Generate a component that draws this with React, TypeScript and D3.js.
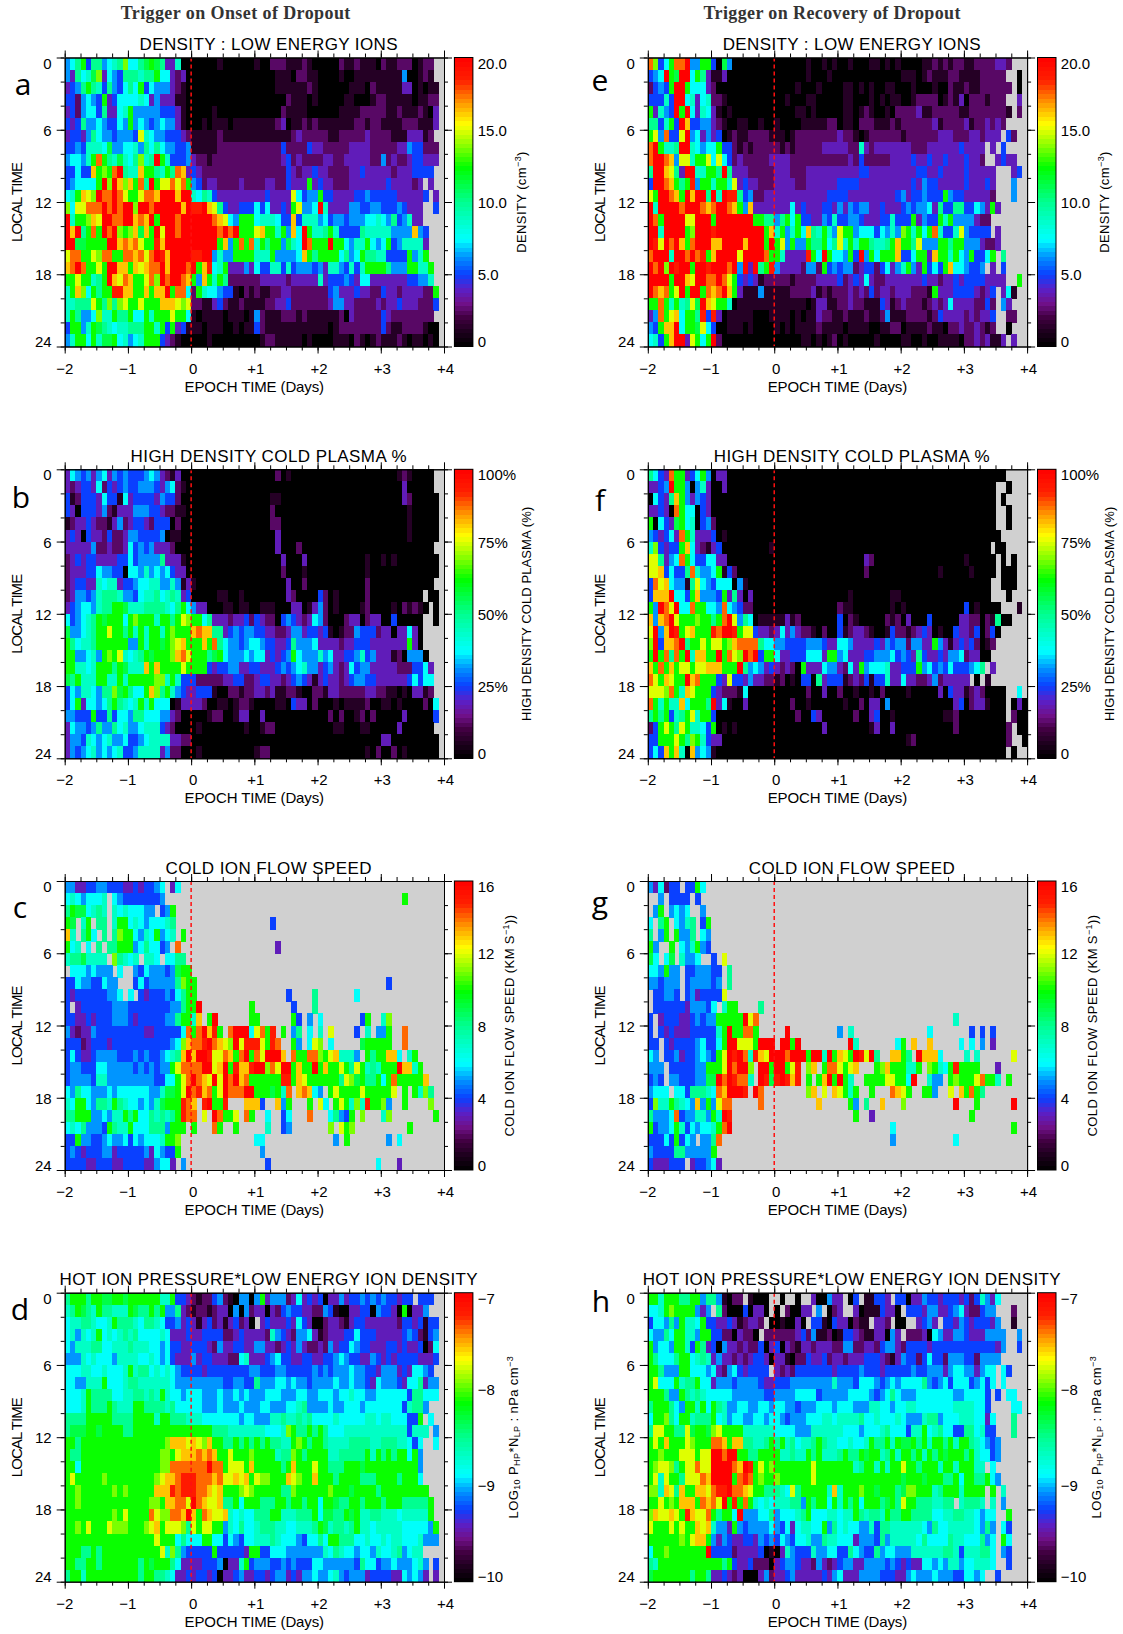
import * as d3 from "d3";
import React, { useEffect, useRef } from "react";

// one row per 2 hours of local time, 12 cells per epoch day (groups split by a space)
// cell code: 0..g is the fraction code/16 of the colour bar, "." is no data (grey)
const densityOnset = [
  "568a4885678b 6689a9833700 000001000000 100222111210 000021121110 2112220122..",
  "538679b36548 88788a663230 000000000000 000011102211 000010011111 1111500121..",
  "3458a8748546 86a465553210 000000000000 000011111121 000000111021 11113301011.",
  "4425654a3466 667635333110 000000000000 000000211101 000001100012 21111101122.",
  "342566483367 a55555444310 000010000000 000002111100 000011112222 21121112103.",
  "434855654465 a56545655310 001011101111 111123011212 111111122122 11112221113.",
  "344358655455 54c765544432 111112111111 111111123222 221122222322 2211133312..",
  "445477769556 675868655445 111112222222 222224222243 322222333322 22233544222.",
  "56657aea8797 68b78ga74445 322122222222 222223423222 233223333322 52322344333.",
  "44644dabaeg8 77daa87a8ed3 432222222222 222222432334 332222334333 3323334444..",
  "456666agbgdb dae8gaccecea 542332222322 2233224333a3 433222333333 34333323.3..",
  "67adcbgeegec aaceedgggdgg 768743333333 3343333c6455 a44333344544 444333334.3.",
  "b6cceeegegeg gbggegggggdg ffgdc8433444 6463343ac556 g73333554455 44454333..4.",
  "g7aabdcggeeg gdedgagggegg ggggedc65aaa 6777644d4777 564554555667 65845733....",
  "gdg8aeagegba bd9dagcggegg gggggegegaaa cdaa7a5d6ga7 78a744448777 775555d54...",
  "gg99aaaaggde decaafdggggg gggggad5aeae 7a8aa5976gea aagaa6577a65 6a4577773...",
  "ceeaacbeeaae edecegfdgggg ffgg5755aaaa 777a55556da8 aaaa6856a887 74444a57a...",
  "degeaacaggdd adcdeegdggge gadf67a33353 644774745554 537754747aaa a8555aa77a..",
  "aacaa78agdce daacebgegged a5da7a822222 233333233333 734445436633 3333344557..",
  "7adb6a8aaffd daadaddgaee6 2a7665441021 211223322222 224533343322 4332333322a.",
  "77888ca8b8bc aacaaadddcbc 221134211211 112233422222 223553322223 23343332224.",
  "7a8556b77a88 a66a7aaacaa6 101111011101 521112221211 111120322222 4322222222..",
  "4aa57a987677 888aa7a4a341 110111001011 421111111111 110122222222 42112222100.",
  "57aa6a799a67 567aaa432100 000100000000 012211111010 000111021012 11121011010.",
];

const plasmaOnset = [
  "365453563545 444565321300 000000000000 000020100000 000000000000 0001210000..",
  "323443624345 445554356210 000000000000 000000000000 000000000000 0000300000..",
  "412444364416 344443544200 000000000000 000110000000 000000000000 00003200000.",
  "430444352133 355544322110 000000000000 000200000000 000000000000 00000100000.",
  "123343221352 344324440200 000000000000 000220000000 000000000000 00000100000.",
  "343043324223 554444501100 000000000000 000030000000 000000000000 00000100000.",
  "333335223223 645453332000 000000000000 000030002000 000000000000 0000000000..",
  "234344333344 645555833310 000000000000 000003000300 000000000100 10100000000.",
  "233344655440 665756564330 000000000000 000002000100 000000000100 00000000000.",
  "234433767734 456677557513 100000000000 000000300200 000000000200 0000000000..",
  "235545788875 546778678734 000001100100 000000320000 420100000200 00000000.00.",
  "345665788aa9 7778888768a6 533000110110 011100033013 520100001200 001021210.0.",
  "645678a9aaa6 abaaa7aa8acb aa6833323342 432204543236 520002330233 00400000..0.",
  "955678aacaa8 a7a7aa7abaaa dedd88345455 443322355344 341012254442 33033630....",
  "a86778aaaaaa 55a7aa9abcda aadae8655456 654433485556 333323344433 33333a30....",
  "aa55675abac7 678a9aaabdec aaa89a655565 6634345a6555 756334457453 331205550...",
  "aa7767aaa8a9 777dadaaaaca aaa434455334 433345456755 345323645533 3332224463..",
  "98a777aa77a7 aaaaabb7a744 422222334422 344332345431 343323455443 3333346466..",
  "465776588b9a 866adb8a7543 344410022122 332311221002 213322222332 2110103312..",
  "46a366568a87 67a7a6660133 332001101221 000011043302 000101111200 11010000206.",
  "55444a448466 588666553200 000122001330 030000000000 002020012020 00003000004.",
  "365545855867 556777432000 010000000010 012200000000 000110001100 0003000000..",
  "355476567556 445677773322 000000000000 000000000000 000000000000 33000000000.",
  "354567565674 457777352200 010000000000 122000000000 000000000102 00201000000.",
];

const speedOnset = [
  "553344554443 3434456.36.. ............ ............ ............ ............",
  "67656667.654 4444445..... ............ ............ ............ ....a.......",
  "8a996787.767 66655.45a... ............ ............ ............ ............",
  "a9.7a.88.7aa 676566678... ............ ...4........ ............ ............",
  "d7.8a6.8.8ba a6576a567.a. ............ ............ ............ ............",
  "a67.6.8.88aa a5686645.e.. ............ ....3....... ............ ............",
  "78897777.b87 67.776.6688. ............ ............ ............ ............",
  ".66656555.6. .546555459aa ............ ............ ............ ............",
  "4465544655.. .464555558ba a........... ............ ............ .4..........",
  "43444444556. 6.434445468a a........... ......4....8 .......6.... ............",
  "4.3444444555 44444444558a ag.........a .......4...8 ............ ............",
  "443343444555 4344444558aa 7d.ag......a a......a4.5. 6.......4a.. 7b..........",
  "532335444444 44433444446e aegdfa.eggg6 ceaf.a.58.6. 7.c....4.7.5 5a..e.......",
  "444234443444 4444444456bd eefgedcbgcff fcafe..a5.6c b.6.....9aaa aa..e.......",
  "464334555544 4545445678dg dggfccedaega ecgggd.eaaee bacd7775.a8a add6.7a.....",
  "455444665555 54545455acee eeggcdgafddf ggbecggadaag adaaca8ca787 aaagdd7a....",
  "455554775555 555554466ace gedcgcgegdea aaaaaffadcaa aaaa8cb9a88a 6aeaaaaad...",
  "658665556566 666655799acg efdeacgeeegg aaa9a7e.ded6 5.acaaaacaaa aac.a.a7b8..",
  "76aa65887a87 6656579aaafe d.fgaaf...dd d4..d5a...a. c6.aca7b7faa b5..a....b..",
  "88aaa556577a 8a6687878afe e.c.geaac.ea ..6..46...e. ..6854a.b... 7b........a.",
  "67685554a877 a6668885aaa. a...ea..a... ..7..45..... ..b.cab..... .....a......",
  "44a554456556 4656667aab.. ............ 66.......... ...5.a...... .5.6........",
  "454344455344 444536544a.. ............ .5.......... ............ ............",
  "444433444334 444335663.5. ............ ..4......... ...........6 ...3........",
];

const pressureOnset = [
  "8aaa8aa99aa9 aaaaaa77a443 212245210550 5a3555236343 403353445454 544344.444..",
  "78a987a88777 a988a8a55832 122123305052 330324544332 254100334405 4430a0335...",
  "677887667a88 876887644534 313423134230 .34333436430 023321344333 33324434144.",
  "675767a67678 786666763334 334444223433 332754325563 123334464443 33334542145.",
  "657778866777 877766564433 444325334433 553323435322 325344654433 34434334026.",
  "555767666577 776676564333 534433322673 334564433443 344565443354 34344443334.",
  "666776676667 a78867676544 443444444445 544455444445 454555655443 5553436654..",
  "6655777a6667 887777776555 555555445544 855566565545 555655655436 55543668355.",
  "6667a8888667 788787a76656 665556556565 556665556655 666566766556 66666488666.",
  "6667a888a877 7aa888878666 665556555655 566555667855 556556665666 666647885...",
  "8888aaaaa888 8aaaa7aa8887 776666666566 555778778786 666766666776 7766644a.6..",
  "8999aa9aaaa8 8aaaaaaaaaaa aaaa88877777 776667ba88a8 a86667777777 777774777.5.",
  "aa8aaaaaaaaa aaaaaaabdddc dcbdaa88a8a8 a8a8877aba8a a87777888877 88877646..6.",
  "a88aaaaaaaaa aaaaaabbacdd dededaacaaab aaaa788ba8aa aa7788888a7a 8a8aa6a5....",
  "aa6aaaaaaaaa aaaaaabbeeee eeegeeacccad aaaaa8adaaac aa888aaa9aaa aaaaaaa5....",
  "acaaaaabaaaa aaaaabcddeff feeedeccdcda cbbaaadcbaad aaa8aaaa888a aaa8aaa6....",
  "aabaaaaaabab aaaaadddfeff feedcdaaabcb aaaaa88baaaa aabaaa9aaaa8 aaaaaaaaa...",
  "aabaaaaaaaaa aaaabbaddeec gedccd88a6aa a888aa8aa8aa 6aa988aa8aaa 8aaa88888a..",
  "aaaaaaaaabac aaaaecbbeedg daedccd76766 888aa777888a 69988a9a7788 777677777a..",
  "aabacaaacbbb aaabcdacccb8 caccaa576866 788877667778 a978878a7767 7777666665a.",
  "aaaaaaaaaaaa aaaaacaaa686 66aa66465466 777876665466 86aa88866766 76776667555.",
  "aaa88a8aaaaa aaaaaac7b854 4444a444443a a44666555555 576876656657 66785677....",
  "aa88aa8aaaaa aa8a9aaa8633 3344450337a4 555445454446 655555548664 556555675.4.",
  "8aa7aaaaaaaa aa8aa8876334 344340334533 443455343556 556754555344 443365653.3.",
];

const densityRecovery = [
  "eb46aeeg55aa 409500000000 000000100101 001000110101 000011212122 112222332...",
  "456ga9gg6a83 113000000000 000000100010 000000000000 111012111221 11122222..0.",
  "2454agga6663 200000000000 000010001000 011010100110 001000100211 211222222.0.",
  "44474gg67367 221000000000 001000110000 011000101011 001222201213 02221222..3.",
  "a3754gag6376 310100000000 000011010000 011012100102 222311222221 122222221.2.",
  "8847a4gd4455 321001100100 100001111122 011022211121 222222312222 31223232....",
  "ac5e44cg5635 340121122221 110122222222 322101222222 122222233322 2332333.42..",
  "ega778gg7656 6a4421212222 212122222333 332273233333 332223333334 3333.3.4....",
  "egged5cc7aac 6c6423222223 333222222222 223242222233 334334334333 4332..3433..",
  "8ggdc83gg77a a8g833322222 333222333333 333344333333 333443343333 433333...34.",
  "4ggeda8af5aa 7aa7c3433222 333322333333 444433333333 334354433333 433343...5..",
  "caggedagdgg8 g7gff8452233 333333333344 443333333334 53445444a544 333332...5..",
  "g7ggggeggged eggeda5d3333 333634333443 535455334333 454556384488 44653a3.....",
  "geaggggccggg agggggggaa88 58a6a4433547 445543334474 44a3544a7a55 55322.......",
  "gg7ggggabggg fgggggggggad 7a57a6d87a75 caa566646575 ba7a6ae7447c 54444.3.....",
  "gfcgegdaeggg ddggggdgggag ac5a55a88a68 c7a7aa8778ad aa8c555aa8aa 5553223.....",
  "eggg7ggegefa dggggcggggea a73333fa6ga6 65a4g5a6aaad 446aa3daa7a6 5a446a.8....",
  "gegbgfggaggf gggeg5g3g8af 533332552a45 455234424635 7a53a464ad66 5445.3.4....",
  "ggggaggdcgge egeca4343122 222122223333 423436322333 333343323343 44443333..a.",
  "gedeacgaggae degda3111511 111222231212 223232423323 332221a33344 443234.361..",
  "aaea7a78c9gd caa701111111 111111013311 223221114312 322212323633 332242.53...",
  "35eacd6aa8f4 f30111110001 111010113221 121112112511 122221243333 232334..22..",
  "54addg6aa9c6 400111010000 101011112111 101111001122 011112110223 223212..0...",
  "674adgg3ca6a g20000000000 000001101012 010000010000 110010011110 22323113.3..",
];

const plasmaRecovery = [
  "8643eaa346a5 033000000000 000000000000 000000000000 000000000000 00000000....",
  "3345gaa50573 003000000000 000000000000 000000000000 000000000000 000000..0...",
  "06438da53543 000000000000 000000000000 000000000000 000000000000 000000.0....",
  "33430ea66043 000000000000 000000000000 000000000000 000000000000 000000..0...",
  "a06439a67045 200000000000 000000000000 000000000000 000000000000 000000..0...",
  "543463ea7333 401000000000 000000000000 000000000000 000000000000 0000000.....",
  "7b4344ad6321 340000000001 000000000000 000000000000 000000000000 00000.00....",
  "cc8356ea6446 633000000000 000000000000 000003200000 000000000000 100000.0.0..",
  "ccd46448e755 6a1420000000 000000000000 000002000000 000000010000 010000.000..",
  "4ecd65518c65 466605100000 000000000000 000000000000 000000000000 00000..000..",
  "4dddg664ad55 54a383030000 000000000000 001000000011 000000000000 00000...0...",
  "a5gecg66eaa6 65e654220000 000000000000 211000000010 100000000000 4010000...1.",
  "d5degcaaabaa 8aegc5860111 113120000000 402100000212 030004000003 322021800...",
  "cg5dgfacdaaa feggfacc4332 363532210200 412332100142 212343010043 3240240.....",
  "bg4ddeg8aaca ccabdeeee866 554444555433 665333343545 525533a53134 342012......",
  "agae8eag7dda agaecbgeg4aa 6334446663aa 563334455564 543843343556 23300.......",
  "daeadaccaccd ddaaag856534 32320a333655 3263a5666733 444a56454644 4568.3......",
  "ecadcaagdeaa a43c44353322 120104408344 412324144733 633223523333 3.0.1.......",
  "cccbea7dcaaa 432221600000 000000200300 200100102000 010000030433 12320000..6.",
  "ea7a77d6aaa8 g36100300000 000200100000 010020330500 000000000034 02331000.030",
  "8a8a478ac7aa 400000000000 000020043000 000200340010 000000001120 00000000.200",
  "24aca8ca7764 a01010000000 000000000300 000000130030 000000000020 000000002.00",
  "44aaaca8ba74 330000000000 000000000000 000000000000 012000000000 000000002..0",
  "464dad70d565 100000000000 000000000000 000000000000 000000000000 00000000.0..",
];

const speedRecovery = [
  "536244.44a6. ............ ............ ............ ............ ............",
  "..5.4444.4.. ............ ............ ............ ............ ............",
  ".5a.5656..5. ............ ............ ............ ............ ............",
  "6.8a.6578.4a ............ ............ ............ ............ ............",
  "8.5a.a558.65 ............ ............ ............ ............ ............",
  "a5..a.657a54 ............ ............ ............ ............ ............",
  "96.69.7556.. 4.c......... ............ ............ ............ ............",
  "665a55.44555 44.8........ ............ ............ ............ ............",
  "554555.45555 45.8........ ............ ............ ............ ............",
  ".44554.45344 44c......... ............ ............ ............ ............",
  ".44444435554 6.7aa....8.. ............ ............ ............ ............",
  "4.3444334545 5aaaaagce... ............ ............ ..........7. ............",
  "4.4343334444 47agaaeea... ..g......... 5.7......... .....6...... .4.4.4......",
  "44.434444564 46aggcccaggg .ggag....... ..g7.......6 a.d..d.....6 .6.5.3......",
  "65.445344565 4acgfge7fdcg ggegggagg7ga dcagfcg8..dd a8.gddd6.... 7.7......c..",
  "555.4444455a aacgeggb.gga ggacf.bd.aee cacd...abdaa a77a.ba76afa aaa...3.....",
  "454.55444559 9gegfee7.gf9 fgfdf.a.adga ga7..aaaacca a6g..755.aba aaceaa7.a...",
  "5666.6648887 6edgggf.ge. .......bd.c. dca7a..a...e dca..aa5..c. daea8.......",
  "4b77a8765d5a 5cee.....e.. ........d... ..a5.8..d... b.........g. ..a......g..",
  "85556e455775 a7gf........ ............ ...a..3..... ............ .a..........",
  "a4556a746566 7aeg........ ............ ..........6. ............ .........a..",
  "44464a465.55 8e.......... ............ ..........5. ..........6. ............",
  "544448855555 a........... ............ ............ ............ ............",
  "4333444.3445 63.......... ............ ............ ............ ............",
];

const pressureRecovery = [
  "aa7aaa88aa58 851022.1000. .0..0..30053 3.04.11443.4 403354434443 4247536.....",
  "667abaaaa535 .8200040330. 0.20033.5.02 3..301114330 .44435533456 322455...2..",
  "466585a776a4 4334312332.0 010030.44104 330211.332.0 0..3453.4435 4344435..1..",
  "65586aa775aa 442203220.22 222234251120 144321133053 .22230653355 43335555..5.",
  "a5665aa74a83 405332322403 403213323332 255223324553 244443444444 44444435..4.",
  "a86668aa6787 353323234430 331022433423 323334443213 544246442555 4425555.....",
  "aa8555aa6665 63256434444. 323244444443 444454443444 445445553566 553566.64...",
  "ac666a788a66 355545555433 444555555557 555466654565 666685456466 645646.6....",
  "aaa855a87876 666655555544 555566664555 556666545686 555666666655 66664.4.66..",
  "8aaa865aa7a6 a87556655665 665545556665 666555776656 677666666677 77664....66.",
  "6aab86aa7888 a67566556656 654555666776 777786676667 655578856667 776636...8..",
  "8ccaa88c9aa9 bcaaaa777777 666655577777 766656667866 6477a6786644 886744...8..",
  "acadaaacbaaa eedadd88778a 8a786778a877 667667a88a7a 99a8a7aa8a7a a876545.....",
  "aabaaacccacc ggeggaa88aaa a77877a8a777 8a88a9aa78a7 aa8a7a8a9aaa 8a76645.....",
  "abccb8accecc ggggedgfacab aaaaaaacaaaa aaa78aa7a7aa caa8aaa7aa7a aa77.6......",
  "ac7caa8ccced ggggaefeabaa baaaaaacaaaa aaaaaaaaaaaa 9aaa9aaa88a6 aa88a65.....",
  "bb7dc8daaddc effgeedcaa88 876c8aaaaa7d 7aaabaa9aaa8 9bbaaa78aaa7 aaaa.a.7....",
  "aacabadddaed ecgafaea7676 777885a8aa6a 7a8a6aaa89a8 caa8887788.7 8887.7.5....",
  "bdccdcafdcce a8aa6g555668 566678a66677 677a87887a88 aa8888667788 776566..a...",
  "caaacacaadcd 7553a5455556 546367766a58 676655748877 777765866777 776585.64...",
  "aaaaaabacdda 535433443545 465466755877 666355548577 777686666877 666856.a6...",
  "6aabaaaaaaag 444423333401 037544475566 448654485665 557777778874 777886.54...",
  "87aaaaaaaaaa aa8a43342220 345543325323 455335555454 343366565775 667776..4...",
  "9aaaaaaa8aa8 334323000352 334533333435 633355554443 356555655544 6656..4.....",
];

const PLOT_W = 379.3;
const PLOT_H = 289;
const tops = [57.5, 469.3, 881, 1292.7];
const lefts = [64.7, 647.8];

const colorStops = [0, 0.05, 0.1, 0.15, 0.2, 0.25, 0.31, 0.37, 0.5, 0.62, 0.7, 0.77, 0.85, 0.92, 1];
const colorValues = ["#000000", "#1c001c", "#400040", "#70108a", "#5a20c8", "#0a40ff", "#0090ff", "#00ffff", "#00ff90", "#00ff00", "#90ff00", "#ffff00", "#ff9000", "#ff2000", "#ff0000"];
const colorScale = d3.scaleLinear<string>().domain(colorStops).range(colorValues);
const GREY = "#d0d0d0";

const xTicks = [-2, -1, 0, 1, 2, 3, 4];
const xLabels = ["\u22122", "\u22121", "0", "+1", "+2", "+3", "+4"];
const xMinor = d3.range(-2, 4.01, 0.25);
const yTicks = [0, 6, 12, 18, 24];
const yMinor = d3.range(0, 24.01, 2);

const parseRows = (rows: string[]) =>
  rows.map((r) =>
    r.replace(/\s/g, "").padEnd(72, ".").slice(0, 72).split("").map((c) => {
      const v = parseInt(c, 17);
      return isNaN(v) ? null : v / 16;
    })
  );

const Sub = ({ t }: { t: string }) => (
  <tspan fontSize="9" dy="2.5">{t}</tspan>
);

const barTitles: Record<string, React.ReactNode> = {
  density: <>DENSITY (cm<tspan fontSize="9" dy="-5">{"\u22123"}</tspan><tspan dy="5">)</tspan></>,
  plasma: <>HIGH DENSITY COLD PLASMA (%)</>,
  speed: <>COLD ION FLOW SPEED (KM S<tspan fontSize="9" dy="-5">{"\u22121"}</tspan><tspan dy="5">))</tspan></>,
  pressure: (
    <>LOG<Sub t="10" /><tspan dy="-2.5"> P</tspan><Sub t="HP" /><tspan dy="-2.5">*N</tspan><Sub t="LP" /><tspan dy="-2.5"> : nPa cm</tspan><tspan fontSize="9" dy="-5">{"\u22123"}</tspan></>
  ),
};

interface PanelProps {
  left: number;
  top: number;
  rows: string[];
  title: string;
  titleLen: number;
  barKind: string;
  barLabels: string[];
  barX: number;
  barLen: number;
  letter: string;
  letterX: number;
  letterY: number;
}

const Panel = ({ left, top, rows, title, titleLen, barKind, barLabels, barX, barLen, letter, letterX, letterY }: PanelProps) => {
  const ref = useRef<SVGGElement | null>(null);
  const x = d3.scaleLinear().domain([-2, 4]).range([0, PLOT_W]);
  const y = d3.scaleLinear().domain([0, 24]).range([0, PLOT_H]);
  const colBand = d3.scaleBand<number>().domain(d3.range(72)).range([0, PLOT_W]);
  const rowBand = d3.scaleBand<number>().domain(d3.range(24)).range([0, PLOT_H]);
  const cells = parseRows(rows);
  const barBands = d3.range(64);
  const barY = d3.scaleBand<number>().domain(barBands).range([PLOT_H, 0]);

  useEffect(() => {
    if (!ref.current) return;
    const g = d3.select(ref.current);
    g.selectAll("*").remove();
    const put = (axis: d3.Axis<d3.NumberValue>, tx: number, ty: number) => {
      const a = g.append("g").attr("transform", `translate(${tx},${ty})`).call(axis as any);
      a.selectAll("text").remove();
      a.select(".domain").attr("stroke-width", 1);
      a.selectAll("line").attr("stroke-width", 1);
    };
    put(d3.axisBottom(x).tickValues(xMinor).tickSize(4).tickSizeOuter(0), 0, PLOT_H);
    put(d3.axisBottom(x).tickValues(xTicks).tickSize(7).tickSizeOuter(0), 0, PLOT_H);
    put(d3.axisTop(x).tickValues(xMinor).tickSize(4).tickSizeOuter(0), 0, 0);
    put(d3.axisTop(x).tickValues(xTicks).tickSize(7).tickSizeOuter(0), 0, 0);
    put(d3.axisLeft(y).tickValues(yMinor).tickSize(4).tickSizeOuter(0), 0, 0);
    put(d3.axisLeft(y).tickValues(yTicks).tickSize(8).tickSizeOuter(0), 0, 0);
    put(d3.axisRight(y).tickValues(yMinor).tickSize(4).tickSizeOuter(0), PLOT_W, 0);
    put(d3.axisRight(y).tickValues(yTicks).tickSize(8).tickSizeOuter(0), PLOT_W, 0);
  }, []);

  const labelShift = (i: number, n: number) => (i === 0 ? 5.5 : i === n - 1 ? -5 : 0.5);
  const xLabelShift = (t: number) => (t < 0 ? 0 : t === 0 ? 2 : 1.5);

  return (
    <g transform={`translate(${left},${top})`} fontFamily="'Liberation Sans'">
      <rect width={PLOT_W} height={PLOT_H} fill={GREY} />
      <g shapeRendering="crispEdges">
        {cells.map((row, i) =>
          row.map((v, j) =>
            v === null ? null : (
              <rect key={`${i}-${j}`} x={colBand(j)} y={rowBand(i)} width={colBand.bandwidth() + 0.4} height={rowBand.bandwidth() + 0.4} fill={colorScale(v)} />
            )
          )
        )}
      </g>
      <line x1={x(0)} x2={x(0)} y1={0} y2={PLOT_H} stroke="#ff1010" strokeWidth={1.5} strokeDasharray="4 3" />
      <g ref={ref} />
      <text x={203.9} y={-7.5} textAnchor="middle" fontSize="17" textLength={titleLen} lengthAdjust="spacing">{title}</text>
      {xTicks.map((t, i) => (
        <text key={t} x={x(t) + xLabelShift(t)} y={PLOT_H + 27} textAnchor="middle" fontSize="15">{xLabels[i]}</text>
      ))}
      <text x={x(1)} y={PLOT_H + 45} textAnchor="middle" fontSize="15" textLength={139.5} lengthAdjust="spacing">EPOCH TIME (Days)</text>
      {yTicks.map((t, i) => (
        <text key={t} x={-13} y={y(t) + 5.5 + labelShift(i, yTicks.length)} textAnchor="end" fontSize="15">{t}</text>
      ))}
      <text transform={`translate(-43,${PLOT_H / 2}) rotate(-90)`} textAnchor="middle" fontSize="15" textLength={80} lengthAdjust="spacing">LOCAL TIME</text>
      {barBands.map((b) => (
        <rect key={b} x={389.7} width={18.5} y={barY(b)} height={barY.bandwidth() + 0.4} fill={colorScale((b + 0.5) / 64)} shapeRendering="crispEdges" />
      ))}
      <rect x={389.7} width={18.5} height={PLOT_H} fill="none" stroke="#000" />
      {barLabels.map((t, i) => (
        <text key={t} x={413} y={(i * PLOT_H) / (barLabels.length - 1) + 5.5 + labelShift(i, barLabels.length)} fontSize="15">{t}</text>
      ))}
      <text transform={`translate(${barX},${PLOT_H / 2}) rotate(-90)`} textAnchor="middle" fontSize="13" letterSpacing={barLen}>{barTitles[barKind]}</text>
      <text x={letterX - left} y={letterY - top} textAnchor="middle" fontSize="30" fontFamily="'Open Sans'">{letter}</text>
    </g>
  );
};

const densityLabels = ["20.0", "15.0", "10.0", "5.0", "0"];
const plasmaLabels = ["100%", "75%", "50%", "25%", "0"];
const speedLabels = ["16", "12", "8", "4", "0"];
const pressureLabels = ["\u22127", "\u22128", "\u22129", "\u221210"];

const panels = [
  { col: 0, row: 0, rows: densityOnset, title: "DENSITY : LOW ENERGY IONS", titleLen: 258, barKind: "density", barLabels: densityLabels, barX: 461, barLen: 0.4, letter: "a", letterX: 23, letterY: 95 },
  { col: 0, row: 1, rows: plasmaOnset, title: "HIGH DENSITY COLD PLASMA %", titleLen: 276, barKind: "plasma", barLabels: plasmaLabels, barX: 466, barLen: 0.1, letter: "b", letterX: 21, letterY: 508 },
  { col: 0, row: 2, rows: speedOnset, title: "COLD ION FLOW SPEED", titleLen: 206, barKind: "speed", barLabels: speedLabels, barX: 449, barLen: 0.4, letter: "c", letterX: 20, letterY: 918 },
  { col: 0, row: 3, rows: pressureOnset, title: "HOT ION PRESSURE*LOW ENERGY ION DENSITY", titleLen: 418, barKind: "pressure", barLabels: pressureLabels, barX: 453, barLen: 0.4, letter: "d", letterX: 20, letterY: 1320 },
  { col: 1, row: 0, rows: densityRecovery, title: "DENSITY : LOW ENERGY IONS", titleLen: 258, barKind: "density", barLabels: densityLabels, barX: 461, barLen: 0.4, letter: "e", letterX: 600, letterY: 91 },
  { col: 1, row: 1, rows: plasmaRecovery, title: "HIGH DENSITY COLD PLASMA %", titleLen: 276, barKind: "plasma", barLabels: plasmaLabels, barX: 466, barLen: 0.1, letter: "f", letterX: 600, letterY: 511 },
  { col: 1, row: 2, rows: speedRecovery, title: "COLD ION FLOW SPEED", titleLen: 206, barKind: "speed", barLabels: speedLabels, barX: 449, barLen: 0.4, letter: "g", letterX: 600, letterY: 913 },
  { col: 1, row: 3, rows: pressureRecovery, title: "HOT ION PRESSURE*LOW ENERGY ION DENSITY", titleLen: 418, barKind: "pressure", barLabels: pressureLabels, barX: 453, barLen: 0.4, letter: "h", letterX: 601, letterY: 1312 },
];

const App = () => (
  <svg width={1123} height={1634} style={{ position: "absolute", left: 0, top: 0, background: "#fff" }}>
    <text x={235.5} y={19} textAnchor="middle" fontSize="18" fontWeight="bold" fontFamily="'Liberation Serif'" fill="#333" textLength={229.7}>Trigger on Onset of Dropout</text>
    <text x={832} y={19} textAnchor="middle" fontSize="18" fontWeight="bold" fontFamily="'Liberation Serif'" fill="#333" textLength={257}>Trigger on Recovery of Dropout</text>
    {panels.map((p) => (
      <Panel
        key={p.letter}
        left={lefts[p.col]}
        top={tops[p.row]}
        rows={p.rows}
        title={p.title}
        titleLen={p.titleLen}
        barKind={p.barKind}
        barLabels={p.barLabels}
        barX={p.barX}
        barLen={p.barLen}
        letter={p.letter}
        letterX={p.letterX}
        letterY={p.letterY}
      />
    ))}
  </svg>
);

export default App;
